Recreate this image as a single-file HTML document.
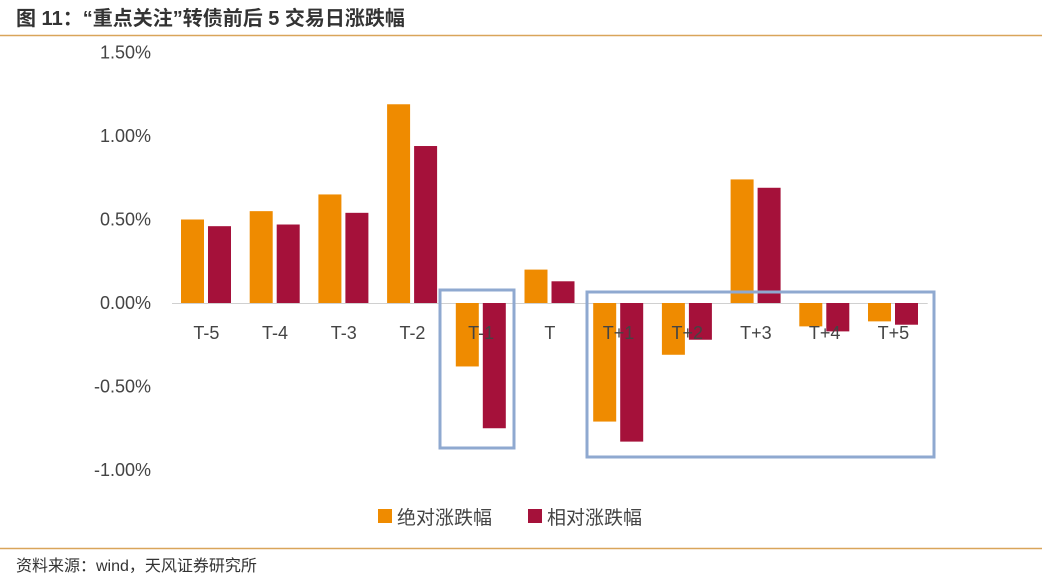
<!DOCTYPE html>
<html><head><meta charset="utf-8"><style>
body{margin:0;width:1042px;height:583px;background:#fff;overflow:hidden;font-family:"Liberation Sans","Noto Sans CJK SC",sans-serif}
</style></head><body>
<svg width="1042" height="583" xmlns="http://www.w3.org/2000/svg" style="position:absolute;left:0;top:0">
<text x="16" y="25" font-size="20" font-weight="bold" fill="#333" font-family="Liberation Sans,Noto Sans CJK SC,sans-serif">图 11：“重点关注”转债前后 5 交易日涨跌幅</text>
<line x1="0" y1="35.5" x2="1042" y2="35.5" stroke="#d9a55a" stroke-width="1.5"/>
<g id="chart"></g>
<rect x="440" y="290" width="74" height="158" fill="none" stroke="#8fa9d0" stroke-width="3"/>
<rect x="587" y="292" width="347" height="165" fill="none" stroke="#8fa9d0" stroke-width="3"/>
<g id="labels"></g>
<g>
<rect x="378" y="509" width="14" height="14" fill="#ef8b00"/>
<text x="397" y="524" font-size="19" fill="#444">绝对涨跌幅</text>
<rect x="528" y="509" width="14" height="14" fill="#a5113a"/>
<text x="547" y="524" font-size="19" fill="#444">相对涨跌幅</text>
</g>
<line x1="0" y1="548.5" x2="1042" y2="548.5" stroke="#d9a55a" stroke-width="1.5"/>
<text x="16" y="571" font-size="16" fill="#333">资料来源：wind，天风证券研究所</text>
</svg>
<script>
const categories=["T-5","T-4","T-3","T-2","T-1","T","T+1","T+2","T+3","T+4","T+5"];
const absoluteValues=[0.50,0.55,0.65,1.19,-0.38,0.20,-0.71,-0.31,0.74,-0.14,-0.11];
const relativeValues=[0.46,0.47,0.54,0.94,-0.75,0.13,-0.83,-0.22,0.69,-0.17,-0.13];
const tickValues=[1.5,1.0,0.5,0,-0.5,-1.0];
const tickLabels=["1.50%","1.00%","0.50%","0.00%","-0.50%","-1.00%"];
const NS="http://www.w3.org/2000/svg";
const g=document.getElementById('chart');
const lg=document.getElementById('labels');
const y=v=>303-v*167;
const x0=172,cw=68.7;
const x=i=>x0+i*cw;
function mk(t,a,p){const e=document.createElementNS(NS,t);for(const k in a)e.setAttribute(k,a[k]);(p||g).appendChild(e);return e;}
tickValues.forEach((v,i)=>{const t=mk('text',{x:151,y:y(v)+6,'text-anchor':'end','font-size':18,fill:'#444'});t.textContent=tickLabels[i];

});
const ax=mk('line',{x1:x0,x2:x0+cw*11,y1:303.5,y2:303.5,stroke:'#d0d0d0'});


categories.forEach((c,i)=>{
const a=absoluteValues[i],r=relativeValues[i];
const b1=mk('rect',{x:x(i)+9,y:Math.min(y(a),y(0)),width:23,height:Math.abs(y(a)-y(0)),fill:'#ef8b00'});


const b2=mk('rect',{x:x(i)+36,y:Math.min(y(r),y(0)),width:23,height:Math.abs(y(r)-y(0)),fill:'#a5113a'});


const t=mk('text',{x:x(i)+cw/2,y:339,'text-anchor':'middle','font-size':18,fill:'#444'},lg);t.textContent=c;


});
</script>
</body></html>
